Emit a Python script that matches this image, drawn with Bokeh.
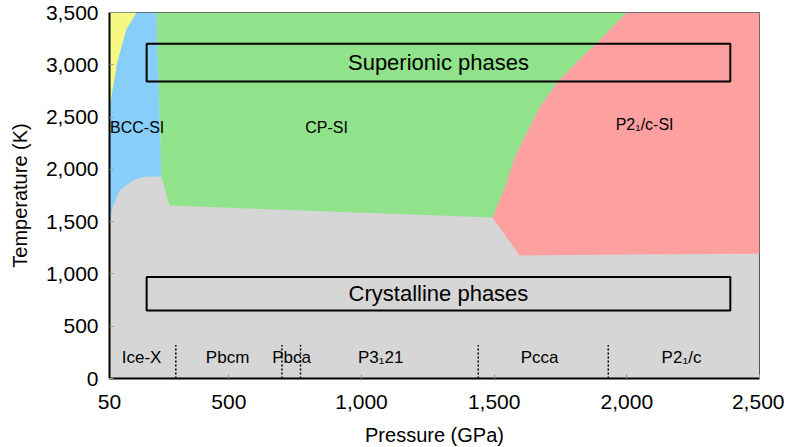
from bokeh.plotting import figure
from bokeh.models import FixedTicker, NumeralTickFormatter, Range1d, ColumnDataSource
from bokeh.core.properties import value
from bokeh.embed import file_html
from bokeh.resources import INLINE

FONT = "Liberation Sans"

# Phase region boundaries (pressure GPa, temperature K)
yellow_p = [50, 50, 152, 114, 80]
yellow_t = [2590, 3500, 3500, 3340, 3030]

blue_p = [50, 50, 152, 227, 246, 201, 165, 137, 88, 61, 54]
blue_t = [1460, 3500, 3500, 3500, 1930, 1932, 1920, 1893, 1798, 1635, 1511]

# CP-SI / P21/c-SI boundary (shared by green and red regions)
cp_p = [1999, 1886, 1810, 1735, 1671, 1622, 1577, 1546, 1520, 1494]
cp_t = [3500, 3204, 3022, 2821, 2592, 2343, 2113, 1865, 1702, 1540]

green_p = [227] + cp_p + [276, 246]
green_t = [3500] + cp_t + [1654, 1930]

red_p = [2500, 2500, 2000, 1595] + cp_p[::-1]
red_t = [3500, 1192, 1185, 1176] + cp_t[::-1]

# Crystalline phase boundaries (dotted)
boundary_p = [300, 700, 770, 1440, 1930]
boundary_top = 320

# Labels
region_labels = ["BCC-SI", "CP-SI", "P2\u2081/c-SI"]
region_p = [52, 868, 2067]
region_t = [2400, 2400, 2430]
region_align = ["left", "center", "center"]

crystal_labels = ["Ice-X", "Pbcm", "Pbca", "P3\u208121", "Pcca", "P2\u2081/c"]
crystal_p = [171, 495, 736, 1072, 1671, 2206]
crystal_t = [200, 200, 200, 200, 200, 200]

box_labels = ["Superionic phases", "Crystalline phases"]
box_left = [190, 190]
box_right = [2390, 2390]
box_bottom = [2840, 650]
box_top = [3200, 970]

x_ticks = [50, 500, 1000, 1500, 2000, 2500]
y_ticks = [0, 500, 1000, 1500, 2000, 2500, 3000, 3500]

p = figure(frame_width=650, frame_height=366, output_backend="svg", toolbar_location=None,
           x_range=Range1d(50, 2500), y_range=Range1d(0, 3500),
           min_border_left=109, min_border_top=12, min_border_right=25, min_border_bottom=64)
p.background_fill_color = "#D6D6D6"
p.border_fill_color = "white"
p.grid.visible = False
p.outline_line_color = "#555555"
p.outline_line_width = 1

p.patch(blue_p, blue_t, fill_color="#87CEFA", line_color=None)
p.patch(green_p, green_t, fill_color="#91E38B", line_color=None)
p.patch(red_p, red_t, fill_color="#FFA0A0", line_color=None)
p.patch(yellow_p, yellow_t, fill_color="#F7F784", line_color=None)

p.segment(x0=boundary_p, y0=[0] * len(boundary_p), x1=boundary_p, y1=[boundary_top] * len(boundary_p),
          line_color="black", line_width=1.5, line_dash="2 2")

p.quad(left=box_left, right=box_right, bottom=box_bottom, top=box_top,
       fill_color=None, line_color="black", line_width=2)

box_cx = [(a + b) / 2 for a, b in zip(box_left, box_right)]
box_cy = [(a + b) / 2 for a, b in zip(box_bottom, box_top)]
p.text(x=box_cx, y=box_cy, text=box_labels, text_align="center", text_baseline="middle",
       text_font=value(FONT), text_font_size="22px", text_color="black")

rsrc = ColumnDataSource(dict(x=region_p, y=region_t, text=region_labels, align=region_align))
p.text(x="x", y="y", text="text", text_align="align", source=rsrc, text_baseline="middle",
       text_font=value(FONT), text_font_size="16px", text_color="black")

p.text(x=crystal_p, y=crystal_t, text=crystal_labels, text_align="center", text_baseline="middle",
       text_font=value(FONT), text_font_size="17px", text_color="black")

p.xaxis.ticker = FixedTicker(ticks=x_ticks)
p.yaxis.ticker = FixedTicker(ticks=y_ticks)
p.xaxis.formatter = NumeralTickFormatter(format="0,0")
p.yaxis.formatter = NumeralTickFormatter(format="0,0")
p.xaxis.axis_label = "Pressure (GPa)"
p.yaxis.axis_label = "Temperature (K)"
for ax in (p.xaxis[0], p.yaxis[0]):
    ax.axis_line_color = "black"
    ax.axis_line_width = 2
    ax.major_tick_in = 4
    ax.major_tick_out = 0
    ax.major_tick_line_color = "#999999"
    ax.minor_tick_line_color = None
    ax.major_label_text_font = FONT
    ax.major_label_text_font_size = "21px"
    ax.major_label_text_color = "black"
    ax.axis_label_text_font = FONT
    ax.axis_label_text_font_size = "20px"
    ax.axis_label_text_font_style = "normal"
    ax.axis_label_text_color = "black"
p.xaxis.major_label_standoff = 16
p.yaxis.major_label_standoff = 11
p.xaxis.axis_label_standoff = 12
p.yaxis.axis_label_standoff = 12

open("out.html", "w").write(file_html(p, INLINE))
